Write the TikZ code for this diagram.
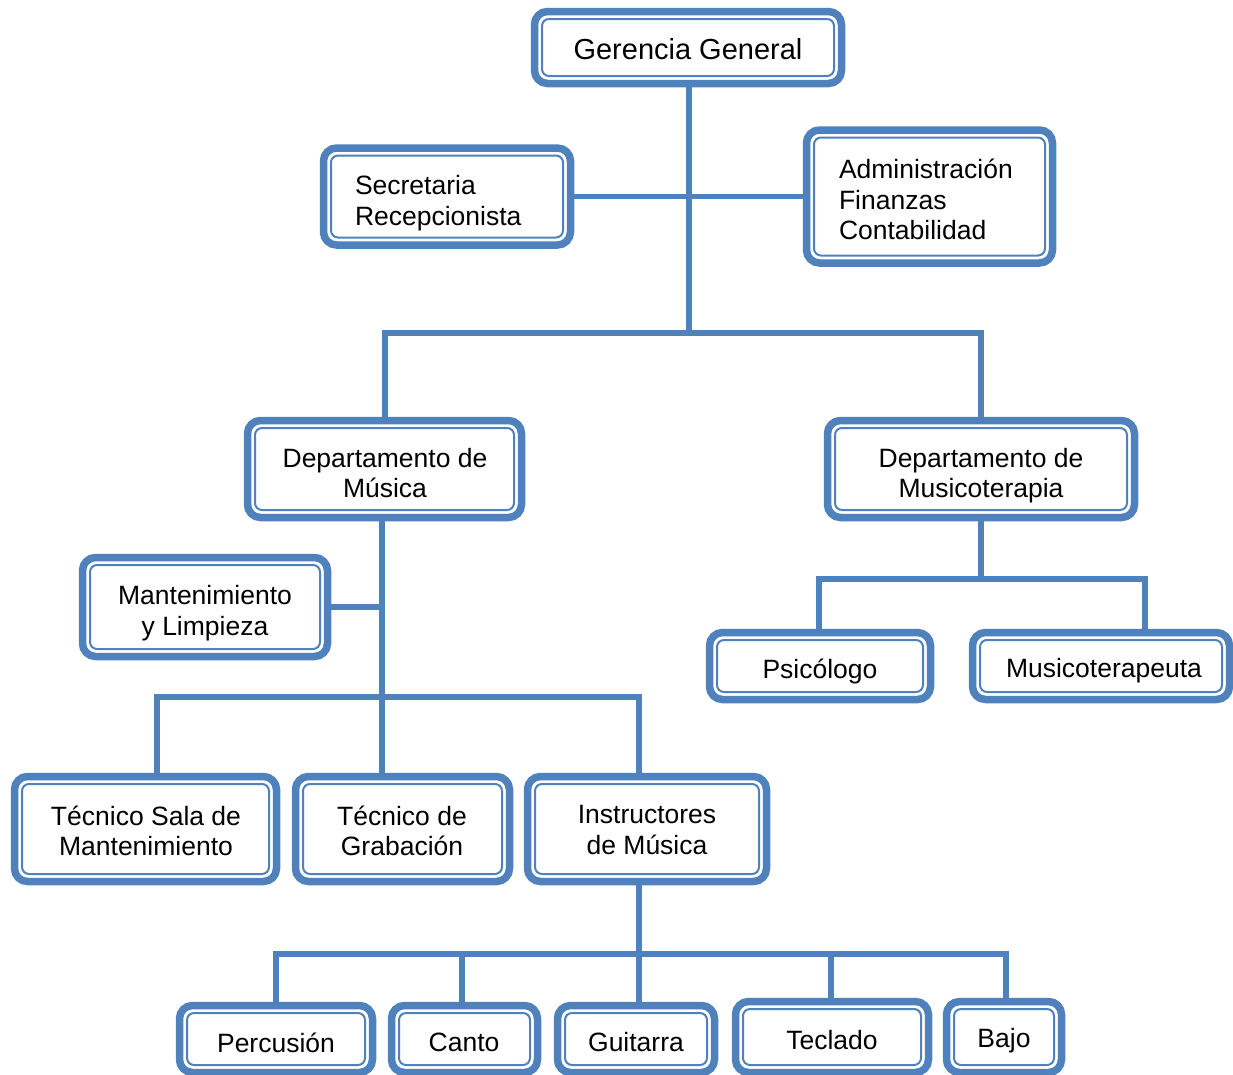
\documentclass[tikz,border=0pt]{standalone}
\usepackage{fontspec}
\setmainfont{Liberation Sans}
\usetikzlibrary{backgrounds}
\definecolor{obl}{HTML}{4F81BD}
\tikzset{
  orgbox/.style={draw=obl, line width=7.5pt, rounded corners=13pt, fill=white,
    inner sep=0pt, outer sep=0pt},
  innerline/.style={draw=obl, line width=2pt, rounded corners=7pt},
  conn/.style={draw=obl, line width=5.5pt},
  lbl/.style={inner sep=0pt, outer sep=0pt, anchor=north, align=center,
    font=\fontsize{26.5}{30.5}\selectfont},
  lbll/.style={lbl, align=left, anchor=north west},
}
\newcommand\obox[5]{%
  \node[orgbox, minimum width=#4pt, minimum height=#5pt] (#1) at (#2,#3) {};
  \draw[innerline] ([shift={(7.5pt,7.5pt)}]#1.south west) rectangle ([shift={(-7.5pt,-7.5pt)}]#1.north east);
}
\begin{document}
\begin{tikzpicture}[x=1pt,y=-1pt]
\useasboundingbox (0,0) rectangle (1233,1074);

% boxes
\obox{gg}{688}{47.5}{307}{72}
\obox{sec}{447}{196.5}{247}{97}
\obox{adm}{929.5}{196.5}{246}{133}
\obox{dm}{384.5}{469}{274}{97}
\obox{dmt}{981}{469}{307}{97}
\obox{mant}{205}{607}{245}{99}
\obox{psi}{820}{666}{221}{67}
\obox{mtp}{1101}{666}{257}{67}
\obox{tsm}{145.5}{829}{262}{105}
\obox{tg}{402.5}{829}{214}{105}
\obox{im}{647}{829}{239}{105}
\obox{perc}{276}{1039}{193}{67}
\obox{canto}{464.5}{1039}{146}{67}
\obox{guit}{636}{1039}{157}{67}
\obox{tec}{832}{1037}{193}{71}
\obox{bajo}{1004}{1037}{115}{71}

% texts
\node[lbl, font=\fontsize{29}{33}\selectfont] (ggt) at (688,38) {Gerencia General};
\node[lbll] (sect) at (355,175.5) {Secretaria\\Recepcionista};
\node[lbll] (admt) at (839,159) {Administración\\Finanzas\\Contabilidad};
\node[lbl] (dmtx) at (385,448) {Departamento de\\Música};
\node[lbl] (dmtt) at (981,448) {Departamento de\\Musicoterapia};
\node[lbl] (mantt) at (205,585.5) {Mantenimiento\\y Limpieza};
\node[lbl] (psit) at (820,658.5) {Psicólogo};
\node[lbl] (mtpt) at (1104,658.5) {Musicoterapeuta};
\node[lbl] (tsmt) at (146,805.5) {Técnico Sala de\\Mantenimiento};
\node[lbl] (tgt) at (402,805.5) {Técnico de\\Grabación};
\node[lbl] (imt) at (647,805.5) {Instructores\\de Música};
\node[lbl] (perct) at (276,1032.5) {Percusión};
\node[lbl] (cantot) at (464,1032.5) {Canto};
\node[lbl] (guitt) at (636,1032.5) {Guitarra};
\node[lbl] (tect) at (832,1030.5) {Teclado};
\node[lbl] (bajot) at (1004,1028.5) {Bajo};

% junction points
\coordinate (c1) at (689,333);
\coordinate (c2) at (385,333);
\coordinate (c3) at (981,333);
\coordinate (c4) at (382,697);
\coordinate (c5) at (157,697);
\coordinate (c6) at (639,697);
\coordinate (c7) at (981,579);
\coordinate (c8) at (819,579);
\coordinate (c9) at (1145,579);
\coordinate (c10) at (639,954);
\coordinate (c11) at (276,954);
\coordinate (c12) at (1006,954);
\coordinate (c13) at (462,954);
\coordinate (c14) at (831,954);

\begin{pgfonlayer}{background}
\draw[conn] (gg.south -| c1) -- (c1);
\draw[conn] (sec.east) -- (sec.east -| adm.west);
\draw[conn] (dm.north -| c2) -- (c2) -- (c3) -- (dmt.north -| c3);
\draw[conn] (dm.south -| c4) -- (tg.north -| c4);
\draw[conn] (mant.east) -- (mant.east -| c4);
\draw[conn] (tsm.north -| c5) -- (c5) -- (c6) -- (im.north -| c6);
\draw[conn] (dmt.south -| c7) -- (c7);
\draw[conn] (psi.north -| c8) -- (c8) -- (c9) -- (mtp.north -| c9);
\draw[conn] (im.south -| c10) -- (guit.north -| c10);
\draw[conn] (perc.north -| c11) -- (c11) -- (c12) -- (bajo.north -| c12);
\draw[conn] (c13) -- (canto.north -| c13);
\draw[conn] (c14) -- (tec.north -| c14);
\end{pgfonlayer}
\end{tikzpicture}
\end{document}
